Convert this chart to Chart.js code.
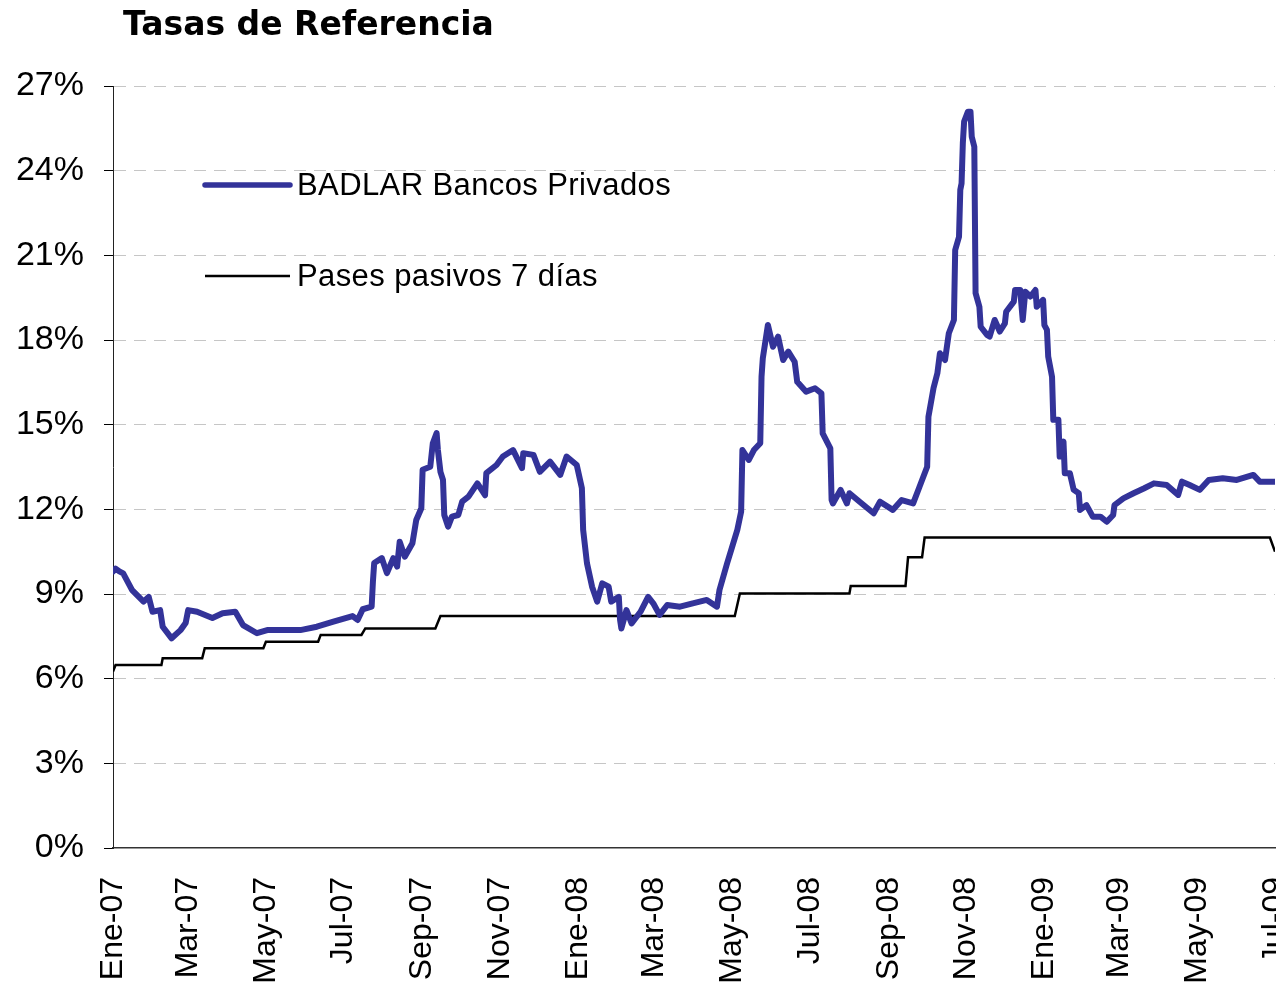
<!DOCTYPE html>
<html>
<head>
<meta charset="utf-8">
<script src="https://cdn.jsdelivr.net/npm/chart.js@4"></script>
<style>
html,body{margin:0;padding:0;background:#fff;overflow:hidden}
#wrap{width:1276px;height:988px;position:relative}
</style>
</head>
<body>
<div id="wrap"><canvas id="c"></canvas></div>
<script>
// ---------- DATA ----------
const chartTitle = 'Tasas de Referencia';
const seriesNames = ['BADLAR Bancos Privados', 'Pases pasivos 7 días'];

// x = days since 1 Jan 2007
const tickDays = [0, 59, 120, 181, 243, 304, 365, 425, 486, 547, 609, 670, 731, 790, 851, 912];
const tickLabels = ['Ene-07','Mar-07','May-07','Jul-07','Sep-07','Nov-07','Ene-08','Mar-08',
                    'May-08','Jul-08','Sep-08','Nov-08','Ene-09','Mar-09','May-09','Jul-09'];

const badlarDays = [0,2,5,8,15,24,28,31,37,39,46,53,57,59,66,78,86,96,102,113,121,133,147,160,173,188,192,196,203,204,205,211,215,220,223,225,229,235,238,242,243,249,251,254,255,257,259,260,263,266,271,274,279,286,292,293,301,306,314,321,322,330,335,343,351,356,364,368,369,372,376,380,384,389,391,397,398,399,403,407,414,420,424,429,435,445,455,466,474,476,482,486,490,493,494,499,503,508,509,510,514,518,522,526,530,535,537,544,551,556,557,563,564,565,571,576,578,586,597,602,612,619,628,633,639,640,644,647,649,653,656,660,661,664,665,666,667,668,671,673,674,676,677,680,681,686,688,692,696,700,701,707,708,712,714,716,720,724,725,730,731,733,734,737,738,742,743,746,747,751,754,758,759,764,769,775,780,785,786,793,801,809,817,827,836,839,845,853,860,871,882,895,900,912];
const badlarValues = [9.8,9.9,9.8,9.73,9.14,8.73,8.9,8.37,8.43,7.84,7.43,7.72,7.97,8.43,8.37,8.15,8.32,8.37,7.9,7.61,7.72,7.72,7.72,7.84,8.02,8.22,8.08,8.46,8.55,9.44,10.1,10.27,9.74,10.27,9.97,10.85,10.32,10.8,11.62,12.04,13.4,13.51,14.34,14.7,14.1,13.33,13.04,11.8,11.39,11.74,11.8,12.27,12.45,12.92,12.5,13.28,13.57,13.87,14.1,13.46,13.99,13.93,13.33,13.69,13.22,13.87,13.57,12.75,11.27,10.09,9.26,8.73,9.38,9.26,8.73,8.9,8.08,7.78,8.43,7.96,8.37,8.9,8.67,8.26,8.61,8.55,8.67,8.79,8.55,9.14,10.09,10.68,11.27,11.92,14.1,13.75,14.1,14.34,16.7,17.35,18.53,17.76,18.12,17.29,17.59,17.23,16.52,16.17,16.29,16.11,14.69,14.16,12.33,12.21,12.69,12.21,12.57,12.27,11.86,12.27,11.98,12.33,12.21,12.8,13.51,15.28,16.3,16.82,17.53,17.29,18.24,18.71,21.19,21.66,23.32,23.55,24.98,25.74,26.09,26.09,25.2,24.85,19.66,19.18,18.47,18.18,18.12,18.71,18.3,18.59,19.0,19.36,19.77,19.77,18.71,19.71,19.54,19.77,19.18,19.42,18.53,18.36,17.41,16.7,15.17,15.17,13.87,14.4,13.28,13.28,12.69,12.57,11.98,12.15,11.74,11.74,11.56,11.8,12.15,12.39,12.57,12.74,12.92,12.86,12.51,12.98,12.86,12.69,13.04,13.1,13.04,13.22,12.98,12.98];

const pasesDays = [0,2,38,39,70,72,118,120,161,163,195,198,253,257,488,492,578,579,622,624,635,637,908,912];
const pasesValues = [6.25,6.48,6.48,6.72,6.72,7.08,7.08,7.31,7.31,7.55,7.55,7.78,7.78,8.22,8.22,9.02,9.02,9.28,9.28,10.3,10.3,11.0,11.0,10.5];

const yMin = 0, yMax = 27, yStep = 3;

// ---------- CHART ----------
const toPoints = (xs, ys) => xs.map((x, i) => ({ x: x, y: ys[i] }));
const tickFont = "'Liberation Sans', Arial, sans-serif";

const overlay = {
  id: 'overlay',
  afterDraw(chart) {
    const ctx = chart.ctx;
    const a = chart.chartArea;
    ctx.save();
    ctx.fillStyle = '#000';
    ctx.textAlign = 'left';
    ctx.textBaseline = 'alphabetic';
    ctx.font = "bold 33px 'DejaVu Sans', Verdana, sans-serif";
    ctx.fillText(chartTitle, a.left + 10, 35);

    const rows = [a.top + 99, a.top + 190];
    chart.data.datasets.forEach((ds, i) => {
      const y = rows[i];
      ctx.beginPath();
      ctx.strokeStyle = ds.borderColor;
      ctx.lineWidth = i === 0 ? 5.5 : 2.5;
      ctx.lineCap = i === 0 ? 'round' : 'butt';
      ctx.moveTo(a.left + 92, y);
      ctx.lineTo(a.left + 177, y);
      ctx.stroke();
      ctx.fillStyle = '#000';
      ctx.font = "31px " + tickFont;
      ctx.letterSpacing = '0.4px';
      ctx.textBaseline = 'middle';
      ctx.fillText(ds.label, a.left + 184, y + 1);
    });
    ctx.restore();
  }
};

new Chart(document.getElementById('c'), {
  type: 'line',
  data: {
    datasets: [
      {
        label: seriesNames[0],
        data: toPoints(badlarDays, badlarValues),
        borderColor: '#333399',
        borderWidth: 6,
        borderJoinStyle: 'round',
        borderCapStyle: 'round',
        pointRadius: 0,
        tension: 0,
        fill: false
      },
      {
        label: seriesNames[1],
        data: toPoints(pasesDays, pasesValues),
        borderColor: '#000000',
        borderWidth: 2.5,
        pointRadius: 0,
        tension: 0,
        fill: false
      }
    ]
  },
  options: {
    responsive: true,
    maintainAspectRatio: false,
    animation: false,
    devicePixelRatio: 1,
    layout: { padding: { top: 86, right: 1, left: 0, bottom: 0 } },
    plugins: { legend: { display: false }, title: { display: false }, tooltip: { enabled: false } },
    scales: {
      x: {
        type: 'linear',
        min: tickDays[0],
        max: tickDays[tickDays.length - 1],
        afterBuildTicks: (s) => { s.ticks = tickDays.map(v => ({ value: v })); },
        afterFit: (s) => { s.height = 140; s.paddingLeft = 0; s.paddingRight = 0; },
        ticks: {
          autoSkip: false,
          minRotation: 90,
          maxRotation: 90,
          padding: 29,
          color: '#000',
          font: { family: tickFont, size: 32 },
          callback: (v, i) => tickLabels[i]
        },
        grid: { display: false, drawTicks: false },
        border: { display: true, color: '#333', width: 1.5 }
      },
      y: {
        min: yMin,
        max: yMax,
        afterFit: (s) => { s.width = 113; },
        ticks: {
          stepSize: yStep,
          padding: 20,
          color: '#000',
          font: { family: tickFont, size: 34 },
          callback: (v) => v + '%'
        },
        grid: {
          color: (c) => (c.tick && c.tick.value === 0) ? 'rgba(0,0,0,0)' : '#c6c6c6',
          lineWidth: 1,
          tickColor: '#000',
          tickLength: 9,
          tickWidth: 1,
          tickBorderDash: []
        },
        border: { display: true, color: '#222', width: 1, dash: [12, 8] }
      }
    }
  },
  plugins: [overlay]
});
</script>
</body>
</html>
